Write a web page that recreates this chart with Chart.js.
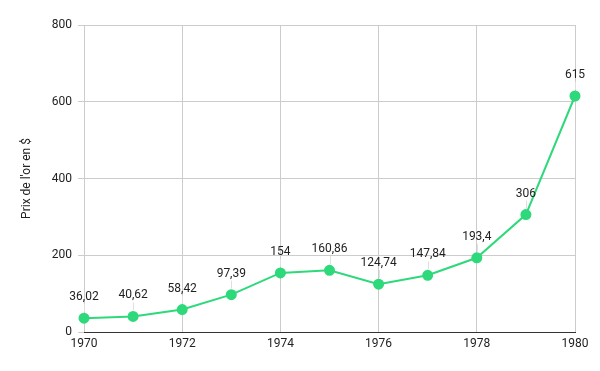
<!DOCTYPE html>
<html lang="fr">
<head>
    <meta charset="UTF-8">
    <title>Prix de l'or 1970-1980</title>
    <script src="https://cdn.jsdelivr.net/npm/chart.js"></script>
    <style>
        body, html {
            margin: 0;
            padding: 0;
            width: 600px;
            height: 371px;
            overflow: hidden;
            background: #fff;
            font-family: Roboto, Arial, sans-serif;
        }
        #wrap { width: 600px; height: 371px; }
    </style>
</head>
<body>
    <div id="wrap"><canvas id="goldChart"></canvas></div>

    <script>
        const years = [1970, 1971, 1972, 1973, 1974, 1975, 1976, 1977, 1978, 1979, 1980];
        const prices = [36.02, 40.62, 58.42, 97.39, 154, 160.86, 124.74, 147.84, 193.4, 306, 615];
        const yTicks = [0, 200, 400, 600, 800];
        const xTicks = [1970, 1972, 1974, 1976, 1978, 1980];

        const lineColor = '#2ed97b';

        // labels above each point, with a thin leader line
        const pointLabels = {
            id: 'pointLabels',
            afterDatasetsDraw(chart) {
                const ctx = chart.ctx;
                const meta = chart.getDatasetMeta(0);
                ctx.save();
                meta.data.forEach((pt, i) => {
                    ctx.strokeStyle = '#e0e0e0';
                    ctx.lineWidth = 1;
                    ctx.beginPath();
                    ctx.moveTo(Math.round(pt.x) + 0.5, pt.y - 14);
                    ctx.lineTo(Math.round(pt.x) + 0.5, pt.y - 6);
                    ctx.stroke();
                    ctx.fillStyle = '#222';
                    ctx.font = '12px Roboto, Arial, sans-serif';
                    ctx.textAlign = 'center';
                    ctx.textBaseline = 'middle';
                    ctx.fillText(String(prices[i]).replace('.', ','), pt.x, pt.y - 21);
                });
                ctx.restore();
            }
        };

        const ctx = document.getElementById('goldChart').getContext('2d');
        new Chart(ctx, {
            type: 'line',
            data: {
                datasets: [{
                    label: "Prix de l'or",
                    data: years.map((y, i) => ({ x: y, y: prices[i] })),
                    borderColor: lineColor,
                    backgroundColor: lineColor,
                    borderWidth: 2,
                    pointRadius: 4.5,
                    pointHoverRadius: 4.5,
                    tension: 0,
                    clip: false
                }]
            },
            options: {
                responsive: true,
                maintainAspectRatio: false,
                animation: false,
                layout: { padding: { left: 15, right: 25, top: 25, bottom: 0 } },
                scales: {
                    x: {
                        type: 'linear',
                        min: 1970,
                        max: 1980,
                        afterBuildTicks: axis => { axis.ticks = xTicks.map(v => ({ value: v })); },
                        afterFit: axis => { axis.height = 39; },
                        grid: { color: '#cccccc', drawTicks: false },
                        border: { color: '#333333', width: 1 },
                        ticks: {
                            padding: 5,
                            color: '#222',
                            font: { family: 'Roboto', size: 12 },
                            callback: v => String(v)
                        }
                    },
                    y: {
                        min: 0,
                        max: 800,
                        afterBuildTicks: axis => { axis.ticks = yTicks.map(v => ({ value: v })); },
                        afterFit: axis => { axis.width = 69; },
                        grid: { color: '#cccccc', tickLength: 6 },
                        border: { display: false },
                        ticks: {
                            padding: 6,
                            color: '#222',
                            font: { family: 'Roboto', size: 12 },
                            callback: v => String(v)
                        },
                        title: {
                            display: true,
                            text: "Prix de l'or en $",
                            color: '#222',
                            font: { family: 'Roboto', size: 12 },
                            padding: { top: 5, bottom: 0 }
                        }
                    }
                },
                plugins: {
                    legend: { display: false },
                    tooltip: { enabled: false }
                }
            },
            plugins: [pointLabels]
        });
    </script>
</body>
</html>
